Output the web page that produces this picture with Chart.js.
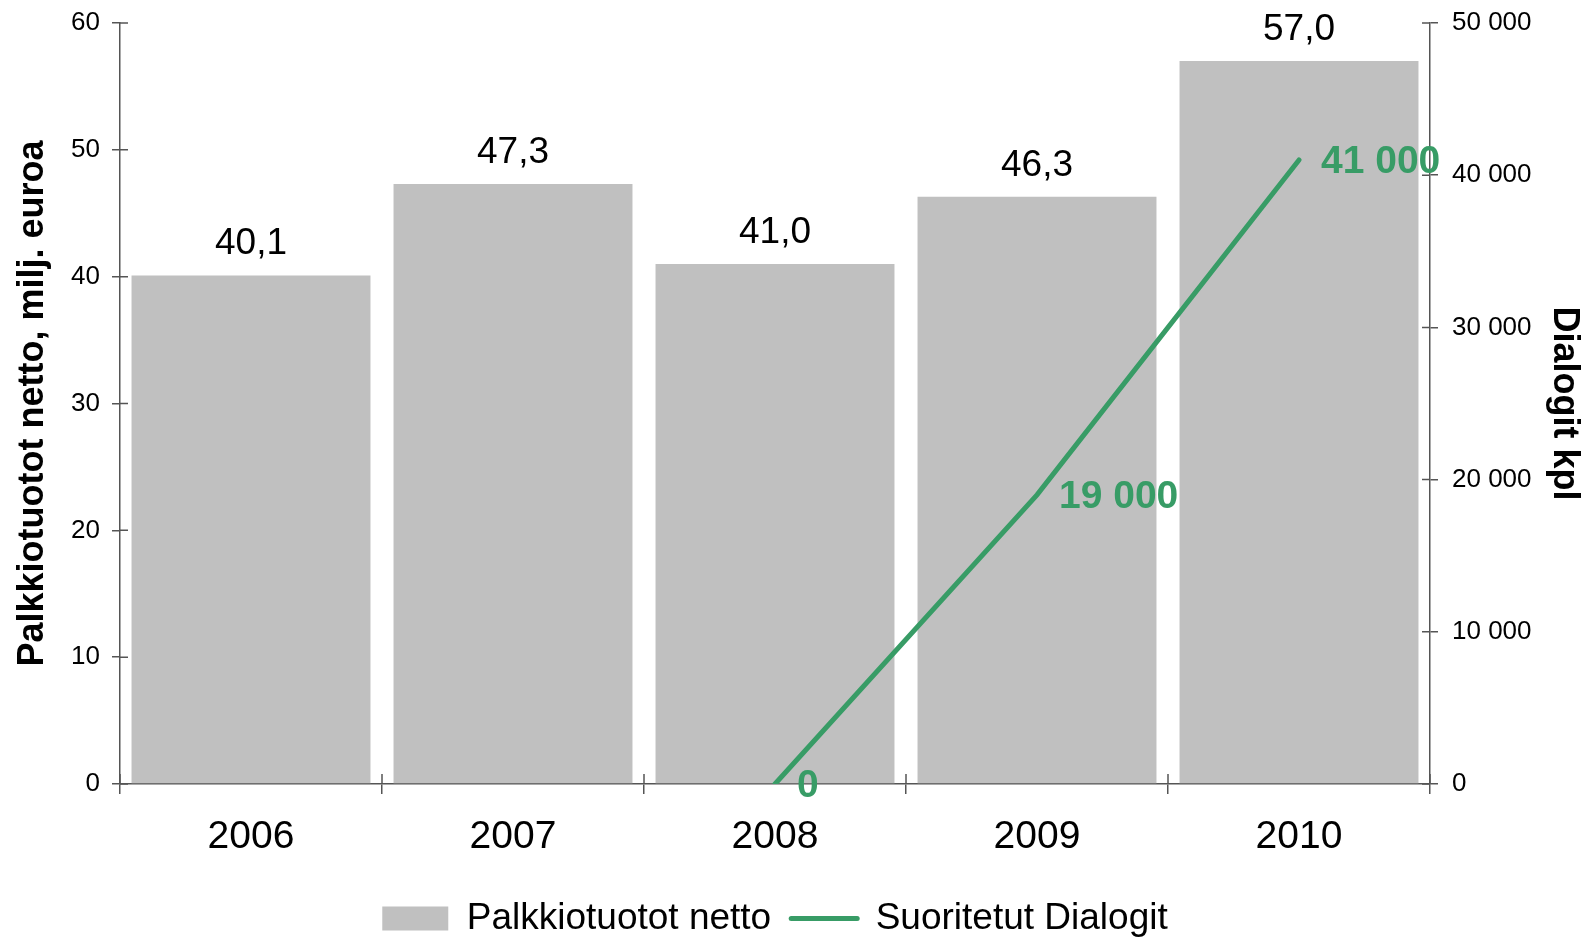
<!DOCTYPE html>
<html>
<head>
<meta charset="utf-8">
<script src="https://cdn.jsdelivr.net/npm/chart.js@4.4.1/dist/chart.umd.min.js"></script>
<style>
    body { margin: 0; background: #ffffff; }
    #wrap { width: 1595px; height: 937px; position: relative; }
</style>
</head>
<body>
<div id="wrap"><canvas id="chart"></canvas></div>
<script>
// Chart data
const years = ['2006', '2007', '2008', '2009', '2010'];
const palkkiotuotot = [40.1, 47.3, 41.0, 46.3, 57.0];
const dialogit = [null, null, 0, 19000, 41000];

// Axis settings
const leftTicks = { min: 0, max: 60, step: 10 };
const rightTicks = { min: 0, max: 50000, step: 10000 };

const GREEN = '#389c66';
const BAR_GREY = '#c0c0c0';
const AXIS = '#555555';

Chart.defaults.font.family = '"Liberation Sans", Arial, sans-serif';
Chart.defaults.color = '#000000';

// Helper: thousands with space
function formatThousands(value) {
    return String(value).replace(/\B(?=(\d{3})+(?!\d))/g, ' ');
}

// Helper: decimal comma
function formatDecimal(value) {
    return value.toFixed(1).replace('.', ',');
}

// Value labels above bars and next to line points
const valueLabels = {
    id: 'valueLabels',
    afterDatasetsDraw(chart) {
        const ctx = chart.ctx;
        ctx.save();
        const barMeta = chart.getDatasetMeta(0);
        ctx.font = '37px "Liberation Sans", Arial, sans-serif';
        ctx.fillStyle = '#000000';
        ctx.textAlign = 'center';
        ctx.textBaseline = 'alphabetic';
        barMeta.data.forEach((bar, i) => {
            const { x, y } = bar.getProps(['x', 'y'], true);
            ctx.fillText(formatDecimal(palkkiotuotot[i]), x, y - 21);
        });

        const lineMeta = chart.getDatasetMeta(1);
        ctx.font = 'bold 39px "Liberation Sans", Arial, sans-serif';
        ctx.fillStyle = GREEN;
        ctx.textAlign = 'left';
        ctx.textBaseline = 'middle';
        lineMeta.data.forEach((pt, i) => {
            if (dialogit[i] === null) return;
            const { x, y } = pt.getProps(['x', 'y'], true);
            ctx.fillText(formatThousands(dialogit[i]), x + 22, y + 2);
        });
        ctx.restore();
    }
};

// Inner halves of the tick marks (Chart.js only draws the outer half)
const innerTicks = {
    id: 'innerTicks',
    afterDraw(chart) {
        const ctx = chart.ctx;
        const { x, y, y1 } = chart.scales;
        ctx.save();
        ctx.strokeStyle = AXIS;
        ctx.lineWidth = 1.5;
        ctx.beginPath();
        y.ticks.forEach((t, i) => {
            const py = y.getPixelForTick(i);
            ctx.moveTo(y.right, py);
            ctx.lineTo(y.right + 8, py);
        });
        y1.ticks.forEach((t, i) => {
            const py = y1.getPixelForTick(i);
            ctx.moveTo(y1.left - 8, py);
            ctx.lineTo(y1.left, py);
        });
        const step = x.width / years.length;
        for (let i = 0; i <= years.length; i++) {
            const px = x.left + i * step;
            ctx.moveTo(px, x.top - 10);
            ctx.lineTo(px, x.top);
        }
        ctx.stroke();
        ctx.restore();
    }
};

const ctx = document.getElementById('chart').getContext('2d');
new Chart(ctx, {
    data: {
        labels: years,
        datasets: [
            {
                type: 'bar',
                label: 'Palkkiotuotot netto',
                data: palkkiotuotot,
                backgroundColor: BAR_GREY,
                borderWidth: 0,
                categoryPercentage: 1.0,
                barPercentage: 0.912,
                yAxisID: 'y',
                order: 2
            },
            {
                type: 'line',
                label: 'Suoritetut Dialogit',
                data: dialogit,
                borderColor: GREEN,
                backgroundColor: GREEN,
                borderWidth: 5,
                borderCapStyle: 'round',
                pointRadius: 0,
                tension: 0,
                fill: false,
                yAxisID: 'y1',
                order: 1
            }
        ]
    },
    options: {
        responsive: true,
        maintainAspectRatio: false,
        animation: false,
        layout: {
            padding: { top: 23, right: 0, bottom: -10, left: 0 }
        },
        plugins: {
            tooltip: { enabled: false },
            legend: {
                display: true,
                position: 'bottom',
                fullSize: false,
                labels: {
                    usePointStyle: true,
                    pointStyleWidth: 66,
                    boxHeight: 24,
                    padding: 20,
                    color: '#000000',
                    font: { size: 37 },
                    generateLabels: function(chart) {
                        return chart.data.datasets.map((ds, i) => ({
                            text: ds.label,
                            datasetIndex: i,
                            fillStyle: ds.type === 'bar' ? BAR_GREY : GREEN,
                            strokeStyle: ds.type === 'bar' ? BAR_GREY : GREEN,
                            lineWidth: ds.type === 'bar' ? 0 : 5,
                            lineCap: 'round',
                            pointStyle: ds.type === 'bar' ? 'rect' : 'line',
                            fontColor: '#000000',
                            hidden: false
                        }));
                    }
                }
            }
        },
        scales: {
            x: {
                offset: true,
                grid: {
                    display: true,
                    offset: true,
                    drawOnChartArea: false,
                    drawTicks: true,
                    tickLength: 10,
                    color: AXIS,
                    lineWidth: 1.5
                },
                border: { display: true, color: AXIS, width: 1.5 },
                ticks: {
                    color: '#000000',
                    padding: 20,
                    font: { size: 39 },
                    maxRotation: 0
                },
                afterFit: function(scale) { scale.height = 96; }
            },
            y: {
                position: 'left',
                min: leftTicks.min,
                max: leftTicks.max,
                grid: {
                    drawOnChartArea: false,
                    drawTicks: true,
                    tickLength: 8,
                    color: AXIS,
                    lineWidth: 1.5
                },
                border: { display: true, color: AXIS, width: 1.5 },
                ticks: {
                    stepSize: leftTicks.step,
                    color: '#000000',
                    padding: 12,
                    font: { size: 26 }
                },
                title: {
                    display: true,
                    text: 'Palkkiotuotot netto, milj. euroa',
                    color: '#000000',
                    font: { size: 36, weight: 'bold' },
                    padding: { top: 11, bottom: 0 }
                },
                afterFit: function(scale) {
                    scale.width = 120;
                    scale.paddingTop = 0;
                    scale.paddingBottom = 0;
                }
            },
            y1: {
                position: 'right',
                min: rightTicks.min,
                max: rightTicks.max,
                grid: {
                    drawOnChartArea: false,
                    drawTicks: true,
                    tickLength: 8,
                    color: AXIS,
                    lineWidth: 1.5
                },
                border: { display: true, color: AXIS, width: 1.5 },
                ticks: {
                    stepSize: rightTicks.step,
                    color: '#000000',
                    padding: 14,
                    font: { size: 26 },
                    callback: function(value) { return formatThousands(value); }
                },
                title: {
                    display: true,
                    text: 'Dialogit kpl',
                    color: '#000000',
                    font: { size: 36, weight: 'bold' },
                    padding: { top: 9, bottom: 0 }
                },
                afterFit: function(scale) {
                    scale.width = 165;
                    scale.paddingTop = 0;
                    scale.paddingBottom = 0;
                }
            }
        }
    },
    plugins: [valueLabels, innerTicks]
});
</script>
</body>
</html>
